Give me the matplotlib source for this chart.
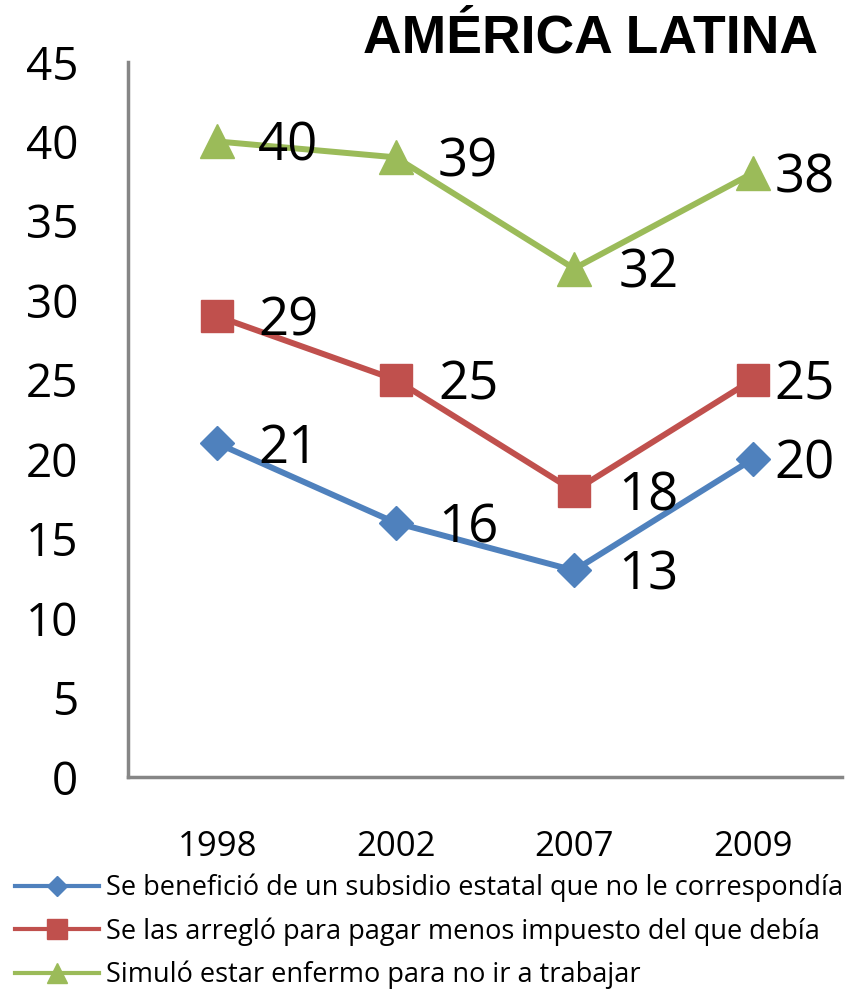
import matplotlib
matplotlib.use("Agg")
import matplotlib.pyplot as plt
import numpy as np

# data
years = ["1998", "2002", "2007", "2009"]
subsidio = [21, 16, 13, 20]
impuesto = [29, 25, 18, 25]
enfermo = [40, 39, 32, 38]
nombres = ["Se benefició de un subsidio estatal que no le correspondía",
           "Se las arregló para pagar menos impuesto del que debía",
           "Simuló estar enfermo para no ir a trabajar"]
yticks = [0, 5, 10, 15, 20, 25, 30, 35, 40, 45]

plt.rcParams['font.family'] = ['Open Sans', 'DejaVu Sans']

fig = plt.figure(figsize=(8.62, 9.92), dpi=100)
ax = fig.add_axes([0.1485, 0.2167, 0.828, 0.7208])

x = np.arange(len(years)) + 0.5
series = [(subsidio, "#4F81BD", "D", 17.5), (impuesto, "#C0504D", "s", 23), (enfermo, "#9BBB59", "^", 24)]
# last column labels sit closer to the marker (no room at the right edge)
dx = [29.5, 30.5, 32, 16]
handles = []
for (vals, col, mk, ms), nm in zip(series, nombres):
    h, = ax.plot(x, vals, color=col, lw=4.3, marker=mk, ms=ms, label=nm)
    handles.append(h)
    for i, (xi, v) in enumerate(zip(x, vals)):
        ax.annotate(str(v), (xi, v), xytext=(dx[i], -4), textcoords="offset points",
                    ha="left", va="center", fontsize=38)

ax.set_xlim(0, 4)
ax.set_ylim(0, 45)
ax.set_yticks(yticks)
ax.set_xticks(x)
ax.set_xticklabels(years)
ax.tick_params(axis="y", length=0, pad=36, labelsize=33)
ax.tick_params(axis="x", length=0, pad=38, labelsize=25)
for s in ["top", "right"]:
    ax.spines[s].set_visible(False)
for s in ["left", "bottom"]:
    ax.spines[s].set_color("#868686")
    ax.spines[s].set_linewidth(2.5)

fig.text(0.949, 0.961, "AMÉRICA LATINA", ha="right", va="center", fontsize=38.5,
         fontweight="bold", family=['Liberation Sans', 'DejaVu Sans'])

leg = fig.legend(handles=handles, loc="upper left", bbox_to_anchor=(0.017, 0.119), frameon=False,
                 prop={'size': 19.5},
                 handlelength=3.1, handletextpad=0.28, labelspacing=0.55,
                 borderaxespad=0, borderpad=0, markerscale=0.6)
for ln in leg.get_lines():
    ln.set_linewidth(3)

fig.savefig("out.png", dpi=100)
